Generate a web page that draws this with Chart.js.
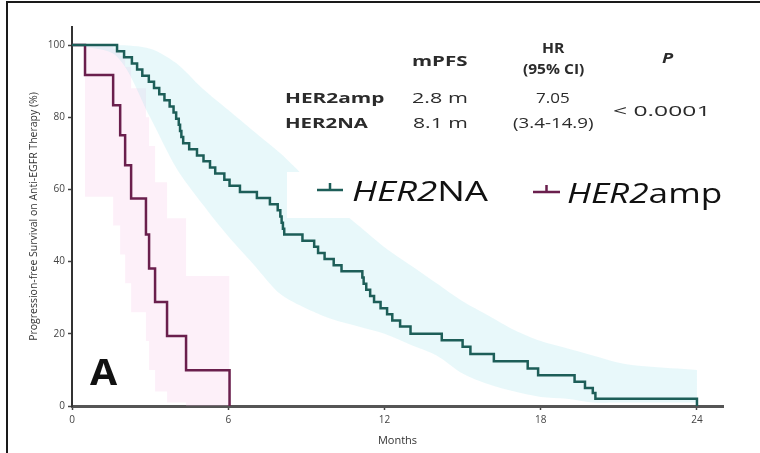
<!DOCTYPE html>
<html>
<head>
<meta charset="utf-8">
<script src="https://cdn.jsdelivr.net/npm/chart.js@4"></script>
<style>
  html, body { margin: 0; padding: 0; background: #fff; }
  #wrap { position: relative; width: 760px; height: 453px; overflow: hidden; }
  #frame { position: absolute; left: 6px; top: 1px; width: 760px; height: 460px;
           border-top: 2.5px solid #1a1a1a; border-left: 2.5px solid #1a1a1a; pointer-events: none; }
  .lbl { position: absolute; left: 0; top: 0; white-space: nowrap; line-height: 1;
         font-family: "Open Sans", sans-serif; color: #2b2b2b; transform-origin: left center; }
</style>
</head>
<body>
<div id="wrap">
  <canvas id="myChart" width="760" height="453"></canvas>
  <div id="frame"></div>
</div>
<script>
// Kaplan-Meier steps, HER2NA (months, % progression-free)
const naMonths = [0, 1.73, 2.0, 2.3, 2.5, 2.7, 2.95, 3.15, 3.35, 3.55, 3.75, 3.9, 4.0, 4.1, 4.15, 4.2, 4.27,
                  4.5, 4.8, 5.05, 5.3, 5.5, 5.85, 6.05, 6.45, 7.1, 7.6, 7.9, 8.0, 8.05, 8.1, 8.15, 8.85,
                  9.3, 9.45, 9.7, 10.05, 10.35, 11.15, 11.2, 11.3, 11.45, 11.6, 11.85, 12.1, 12.3, 12.6,
                  13.0, 14.2, 15.0, 15.3, 16.2, 17.5, 17.9, 19.3, 19.7, 20.0, 20.1, 24.0];
const naSurv   = [100, 98.3, 96.6, 94.9, 93.2, 91.5, 89.8, 88.1, 86.4, 84.7, 83.0, 81.3, 79.6, 77.9, 76.2, 74.5, 72.8,
                  71.1, 69.4, 67.8, 66.1, 64.4, 62.7, 61.0, 59.3, 57.6, 55.9, 54.2, 52.5, 50.8, 49.1, 47.5, 45.8,
                  44.1, 42.4, 40.7, 39.0, 37.3, 35.6, 33.9, 32.2, 30.5, 28.8, 27.1, 25.4, 23.7, 22.0,
                  20.0, 18.2, 16.4, 14.4, 12.4, 10.4, 8.5, 6.7, 5.0, 3.6, 2.0, 0];

// HER2amp steps
const ampMonths = [0, 0.5, 1.58, 1.85, 2.04, 2.27, 2.84, 2.96, 3.19, 3.65, 4.38, 6.05];
const ampSurv   = [100, 91.7, 83.3, 75.0, 66.7, 57.5, 47.5, 38.1, 28.8, 19.4, 9.9, 0];

// 95% confidence bands
const naBandMonths = [0, 1.7, 3, 4, 5, 6, 7, 8, 9, 10, 11, 12, 13, 14, 15, 16, 17, 18, 19, 20, 21, 22, 24];
const naUpper      = [100, 100, 99, 95, 88, 82, 76, 70, 63, 56, 50, 44, 39, 34, 29, 25, 21, 18, 16, 14, 12, 11, 10];
const naLower      = [100, 97, 80, 66, 56, 47, 39, 31, 27, 24, 22, 20, 17, 14, 9, 6, 4, 2.5, 2, 1, 1, 1, 1];

const ampBandMonths = [0.5, 1.58, 1.85, 2.04, 2.27, 2.84, 2.96, 3.19, 3.65, 4.38, 6.05];
const ampUpper      = [100, 99, 97, 94, 88, 80, 72, 62, 52, 36, 36];
const ampLower      = [58, 50, 42, 34, 26, 18, 10, 4, 1, 0, 0];

const xTicks = [0, 6, 12, 18, 24];
const yTicks = [0, 20, 40, 60, 80, 100];

const naColor = '#1d5e58';
const ampColor = '#6a1f4d';

const pts = (xs, ys) => xs.map((x, i) => ({x: x, y: ys[i]}));

// white legend box + legend line symbols
const legendPlugin = {
  id: 'kmLegend',
  afterDatasetsDraw(chart) {
    const c = chart.ctx;
    c.save();
    c.fillStyle = '#fff';
    c.fillRect(287, 172, 445, 46);
    const sym = (x0, x1, y, col) => {
      c.strokeStyle = col;
      c.lineWidth = 2.5;
      c.beginPath();
      c.moveTo(x0, y); c.lineTo(x1, y);
      c.moveTo((x0 + x1) / 2, y - 7); c.lineTo((x0 + x1) / 2, y);
      c.stroke();
    };
    sym(317, 343, 190, naColor);
    sym(533, 560, 192, ampColor);
    c.restore();
  }
};

const ctx = document.getElementById('myChart');

const myChart = new Chart(ctx, {
  type: 'line',
  data: {
    datasets: [
      {label: 'HER2NA', data: pts(naMonths, naSurv), stepped: 'before', borderColor: naColor,
       borderWidth: 2.5, fill: false, pointRadius: 0},
      {label: 'HER2amp', data: pts(ampMonths, ampSurv), stepped: 'before', borderColor: ampColor,
       borderWidth: 2.5, fill: false, pointRadius: 0},
      {label: 'na upper', data: pts(naBandMonths, naUpper), borderWidth: 0, pointRadius: 0,
       tension: 0.3, fill: '+1', backgroundColor: 'rgba(150, 225, 230, 0.22)'},
      {label: 'na lower', data: pts(naBandMonths, naLower), borderWidth: 0, pointRadius: 0,
       tension: 0.3, fill: false},
      {label: 'amp upper', data: pts(ampBandMonths, ampUpper), borderWidth: 0, pointRadius: 0,
       stepped: 'before', fill: '+1', backgroundColor: 'rgba(245, 180, 225, 0.2)'},
      {label: 'amp lower', data: pts(ampBandMonths, ampLower), borderWidth: 0, pointRadius: 0,
       stepped: 'before', fill: false}
    ]
  },
  options: {
    responsive: false,
    animation: false,
    layout: {padding: {left: 0, right: 37, top: 27, bottom: 0}},
    plugins: {legend: {display: false}, tooltip: {enabled: false}},
    scales: {
      x: {
        type: 'linear', min: 0, max: 25,
        afterBuildTicks: s => { s.ticks = xTicks.map(v => ({value: v})); },
        afterFit: s => { s.height = 47; },
        grid: {display: true, drawOnChartArea: false, drawTicks: true, tickLength: 4,
               tickColor: '#444', tickWidth: 1.5},
        border: {display: true, color: '#555', width: 3},
        ticks: {color: '#444', font: {family: 'Open Sans', size: 10}, padding: 4, maxRotation: 0},
        title: {display: true, text: 'Months', color: '#333',
                font: {family: 'Open Sans', size: 11}, padding: {top: 2, bottom: 6}}
      },
      y: {
        type: 'linear', min: 0, max: 105,
        afterBuildTicks: s => { s.ticks = yTicks.map(v => ({value: v})); },
        afterFit: s => { s.width = 72; },
        grid: {display: true, drawOnChartArea: false, drawTicks: true, tickLength: 4,
               tickColor: '#444', tickWidth: 1.5},
        border: {display: true, color: '#333', width: 2},
        ticks: {color: '#444', font: {family: 'Open Sans', size: 10}, padding: 3},
        title: {display: true, text: 'Progression-free Survival on Anti-EGFR Therapy (%)', color: '#333',
                font: {family: 'Open Sans', size: 10.5}, padding: {top: 28, bottom: 0}}
      }
    }
  },
  plugins: [legendPlugin]
});

// table text, legend text, panel letter (x, y centre, target width)
const notes = [
  {t: 'mPFS', x: 440, y: 60, w: 56, s: 15, b: 700, c: 1},
  {t: 'HR', x: 553, y: 47, w: 22, s: 15, b: 700, c: 1},
  {t: '(95% CI)', x: 553, y: 68, w: 61, s: 15, b: 700, c: 1},
  {t: '<i>P</i>', x: 667, y: 57, w: 11, s: 15, b: 700, c: 1},
  {t: 'HER2amp', x: 285, y: 97, w: 100, s: 15, b: 700, c: 0},
  {t: 'HER2NA', x: 285, y: 122, w: 83, s: 15, b: 700, c: 0},
  {t: '2.8 m', x: 412, y: 97, w: 56, s: 15, b: 400, c: 0},
  {t: '8.1 m', x: 413, y: 122, w: 55, s: 15, b: 400, c: 0},
  {t: '7.05', x: 553, y: 97, w: 34, s: 15, b: 400, c: 1},
  {t: '(3.4-14.9)', x: 553, y: 122, w: 80, s: 15, b: 400, c: 1},
  {t: '&lt; 0.0001', x: 613, y: 110, w: 97, s: 15, b: 400, c: 0},
  {t: '<i>HER2</i>NA', x: 352, y: 190, w: 136, s: 27, b: 400, c: 0, k: '#111'},
  {t: '<i>HER2</i>amp', x: 567, y: 192, w: 155, s: 27, b: 400, c: 0, k: '#111'},
  {t: 'A', x: 90, y: 371, w: 27, s: 35, b: 700, c: 0, k: '#111'}
];

const wrap = document.getElementById('wrap');
notes.forEach(n => {
  const el = document.createElement('div');
  el.className = 'lbl';
  el.innerHTML = n.t;
  el.style.fontSize = n.s + 'px';
  el.style.fontWeight = n.b;
  if (n.k) el.style.color = n.k;
  wrap.appendChild(el);
  const k = n.w / el.offsetWidth;
  const h = el.offsetHeight;
  el.style.left = (n.c ? n.x - n.w / 2 : n.x) + 'px';
  el.style.top = (n.y - h / 2) + 'px';
  el.style.transform = 'scaleX(' + k.toFixed(3) + ')';
});
</script>
</body>
</html>
